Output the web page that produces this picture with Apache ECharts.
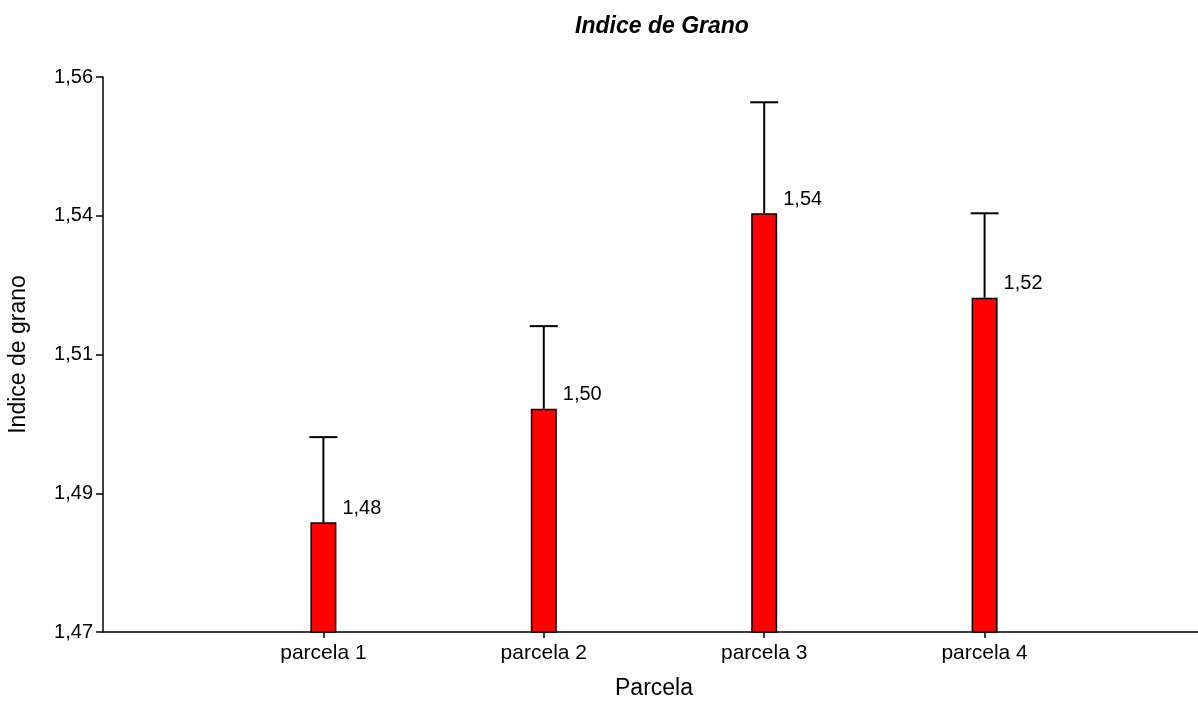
<!DOCTYPE html>
<html>
<head>
<meta charset="utf-8">
<script src="https://cdn.jsdelivr.net/npm/echarts@6/dist/echarts.min.js"></script>
<style>
html,body{margin:0;padding:0;background:#fff;}
#chart{width:1198px;height:702px;}
</style>
</head>
<body>
<div id="chart"></div>
<script>
// ---- data ----
var categories = ['', 'parcela 1', 'parcela 2', 'parcela 3', 'parcela 4', ''];
var means = [null, 1.4878, 1.5062, 1.5379, 1.5242, null];
var upper = [null, 1.5016, 1.5196, 1.5559, 1.5379, null];
var valueLabels = ['', '1,48', '1,50', '1,54', '1,52', ''];
var yTickValues = [1.47, 1.4925, 1.515, 1.5375, 1.56];
var yTickLabels = ['1,47', '1,49', '1,51', '1,54', '1,56'];

var FONT = '"Liberation Sans", Arial, sans-serif';
var chart = echarts.init(document.getElementById('chart'), null, {renderer: 'canvas'});

var errData = [];
for (var i = 0; i < categories.length; i++) {
  if (means[i] != null) errData.push([i, means[i], upper[i]]);
}

function yLabel(v) {
  var best = 0, d = Infinity;
  for (var k = 0; k < yTickValues.length; k++) {
    var dd = Math.abs(yTickValues[k] - v);
    if (dd < d) { d = dd; best = k; }
  }
  return yTickLabels[best];
}

var option = {
  backgroundColor: '#ffffff',
  animation: false,
  title: {
    text: 'Indice de Grano',
    left: 657,
    top: 10,
    textAlign: 'center',
    textStyle: {fontFamily: FONT, fontSize: 23, fontWeight: 'bold', fontStyle: 'italic', color: '#000'}
  },
  grid: {left: 103, width: 1102, top: 77, bottom: 70, containLabel: false, outerBoundsMode: 'none'},
  xAxis: {
    type: 'category',
    data: categories,
    boundaryGap: false,
    name: 'Parcela',
    nameLocation: 'middle',
    nameGap: 45,
    nameTextStyle: {fontFamily: FONT, fontSize: 23, color: '#000'},
    axisLine: {lineStyle: {color: '#000', width: 1.5}},
    axisTick: {
      show: true, length: 6, lineStyle: {color: '#000', width: 1.5},
      interval: function (idx, val) { return val !== ''; }
    },
    axisLabel: {
      fontFamily: FONT, fontSize: 21, color: '#000', margin: 11,
      interval: function (idx, val) { return val !== ''; }
    },
    splitLine: {show: false}
  },
  yAxis: {
    type: 'value',
    min: 1.47,
    max: 1.56,
    name: 'Indice de grano',
    nameLocation: 'middle',
    nameGap: 73,
    nameRotate: 90,
    nameTextStyle: {fontFamily: FONT, fontSize: 23, color: '#000'},
    axisLine: {show: true, lineStyle: {color: '#000', width: 1.5}},
    axisTick: {show: true, length: 7, customValues: yTickValues, lineStyle: {color: '#000', width: 1.5}},
    axisLabel: {
      fontFamily: FONT, fontSize: 20, color: '#000', margin: 10,
      customValues: yTickValues,
      formatter: yLabel
    },
    splitLine: {show: false}
  },
  series: [
    {
      type: 'bar',
      data: means,
      barWidth: 26,
      itemStyle: {color: '#ff0000', borderColor: '#000', borderWidth: 1.5},
      label: {
        show: true,
        position: [32, -24],
        fontFamily: FONT, fontSize: 20, color: '#000',
        formatter: function (p) { return valueLabels[p.dataIndex]; }
      },
      z: 2
    },
    {
      type: 'custom',
      data: errData,
      encode: {x: 0, y: [1, 2]},
      z: 3,
      renderItem: function (params, api) {
        var x = api.value(0);
        var lo = api.coord([x, api.value(1)]);
        var hi = api.coord([x, api.value(2)]);
        var half = 14;
        var style = {stroke: '#000', lineWidth: 2};
        return {
          type: 'group',
          children: [
            {type: 'line', shape: {x1: hi[0], y1: lo[1], x2: hi[0], y2: hi[1]}, style: style},
            {type: 'line', shape: {x1: hi[0] - half, y1: hi[1], x2: hi[0] + half, y2: hi[1]}, style: style}
          ]
        };
      }
    }
  ]
};
chart.setOption(option);
</script>
</body>
</html>
